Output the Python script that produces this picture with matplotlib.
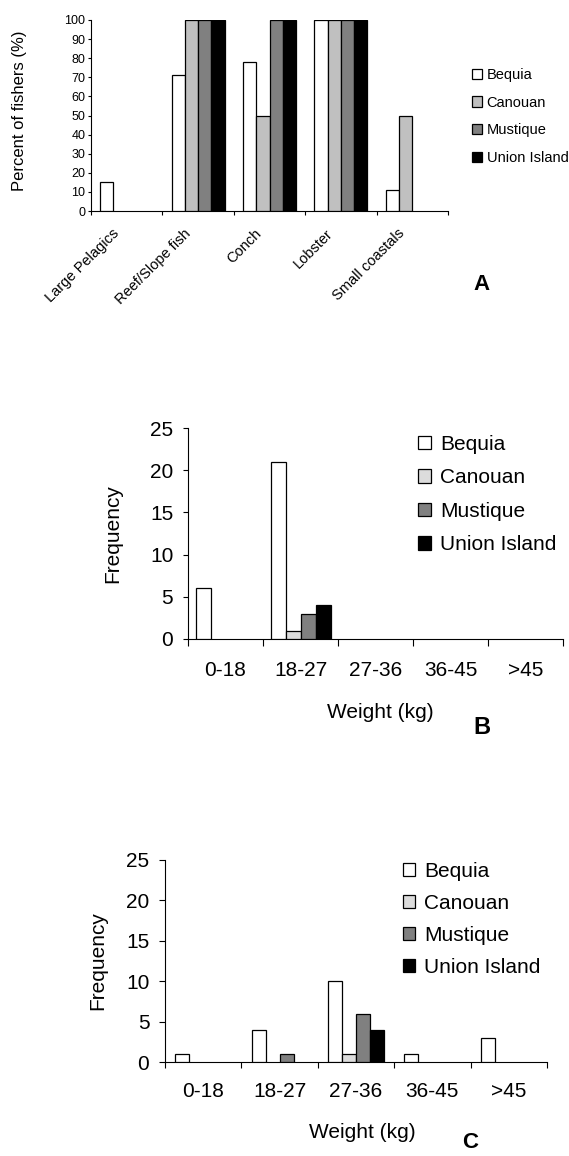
import numpy as np
import matplotlib
matplotlib.use('Agg')
import matplotlib.pyplot as plt
import matplotlib.transforms as mtransforms

plt.rcParams['font.family'] = ['Liberation Sans', 'DejaVu Sans']

islands = ['Bequia', 'Canouan', 'Mustique', 'Union Island']

# panel A - percent of fishers targeting each resource
resources = ['Large Pelagics', 'Reef/Slope fish', 'Conch', 'Lobster', 'Small coastals']
pct_bequia = [15, 71, 78, 100, 11]
pct_canouan = [0, 100, 50, 100, 50]
pct_mustique = [0, 100, 100, 100, 0]
pct_union = [0, 100, 100, 100, 0]

# panels B, C - weight class frequencies
weight_bins = ['0-18', '18-27', '27-36', '36-45', '>45']
b_bequia = [6, 21, 0, 0, 0]
b_canouan = [0, 1, 0, 0, 0]
b_mustique = [0, 3, 0, 0, 0]
b_union = [0, 4, 0, 0, 0]

c_bequia = [1, 4, 10, 1, 3]
c_canouan = [0, 0, 1, 0, 0]
c_mustique = [0, 1, 6, 0, 0]
c_union = [0, 0, 4, 0, 0]

colors_a = ['white', '#c0c0c0', '#808080', 'black']
colors_bc = ['white', '#dcdcdc', '#808080', 'black']

W, H = 569, 1156
fig = plt.figure(figsize=(W / 100, H / 100), dpi=100)


def px_axes(left, top, right, bottom):
    return fig.add_axes([left / W, 1 - bottom / H, (right - left) / W, (bottom - top) / H])


def draw_bars(ax, series, colors, labels, width, fs, ymax, ystep, ylen, ypad, xlen):
    x = np.arange(len(labels))
    for i, (vals, c) in enumerate(zip(series, colors)):
        vals = np.asarray(vals, dtype=float)
        keep = vals > 0  # empty bars are not drawn in the original
        ax.bar(x[keep] + (i - 1.5) * width, vals[keep], width, color=c,
               edgecolor='black', linewidth=0.9, zorder=3)
        # invisible proxy so legend gets every island
        ax.bar([np.nan], [np.nan], width, color=c, edgecolor='black',
               linewidth=0.9, label=islands[i])
    ax.set_xlim(-0.5, len(labels) - 0.5)
    ax.set_ylim(0, ymax)
    ax.set_yticks(np.arange(0, ymax + 1, ystep))
    ax.set_xticks(np.arange(len(labels) + 1) - 0.5)
    ax.set_xticklabels([])
    ax.set_xticks(x, minor=True)
    ax.tick_params(axis='x', which='major', direction='out', length=xlen, width=0.8)
    ax.tick_params(axis='x', which='minor', length=0, labelsize=fs)
    ax.tick_params(axis='y', direction='out', length=ylen, width=0.8, labelsize=fs, pad=ypad)
    for s in ['top', 'right']:
        ax.spines[s].set_visible(False)
    ax.spines['left'].set_linewidth(0.8)
    ax.spines['bottom'].set_linewidth(0.8)
    return x


# ---- panel A
axA = px_axes(91, 20, 448, 211)
draw_bars(axA, [pct_bequia, pct_canouan, pct_mustique, pct_union], colors_a,
          resources, 0.185, 9, 100, 10, 2.5, 1.5, 3)
axA.set_xticklabels(resources, minor=True, rotation=45, ha='right', va='top',
                    fontsize=10.5)
axA.tick_params(axis='x', which='minor', pad=11)
shift = mtransforms.ScaledTranslation(-5 / 100, 0, fig.dpi_scale_trans)
for lab in axA.xaxis.get_minorticklabels():
    lab.set_transform(lab.get_transform() + shift)
axA.set_ylabel('Percent of fishers (%)', fontsize=12)
axA.yaxis.set_label_coords((27 - 91) / (448 - 91), 0.524)
axA.legend(loc='upper left', bbox_to_anchor=(472 / W, 1 - 68 / H),
           bbox_transform=fig.transFigure, frameon=False, fontsize=10.5,
           handlelength=0.7, handleheight=0.7, handletextpad=0.3,
           labelspacing=0.94, borderpad=0, borderaxespad=0)
fig.text(482 / W, 1 - 285 / H, 'A', fontsize=16, fontweight='bold', ha='center', va='center')

# ---- panel B
axB = px_axes(188, 428, 563, 639)
draw_bars(axB, [b_bequia, b_canouan, b_mustique, b_union], colors_bc,
          weight_bins, 0.2, 15, 25, 5, 3.6, 7, 5)
axB.set_xticklabels(weight_bins, minor=True)
axB.tick_params(axis='x', which='minor', pad=16)
axB.set_ylabel('Frequency', fontsize=15)
axB.yaxis.set_label_coords((122 - 188) / (563 - 188), 0.5)
axB.set_xlabel('Weight (kg)', fontsize=15)
axB.xaxis.set_label_coords((380 - 188) / (563 - 188), -(703 - 639) / (639 - 428))
axB.legend(loc='upper left', bbox_to_anchor=(418 / W, 1 - 435 / H),
           bbox_transform=fig.transFigure, frameon=False, fontsize=15,
           handlelength=0.62, handleheight=0.62, handletextpad=0.43,
           labelspacing=0.69, borderpad=0, borderaxespad=0)
fig.text(482 / W, 1 - 728 / H, 'B', fontsize=17, fontweight='bold', ha='center', va='center')

# ---- panel C
axC = px_axes(165, 860, 547, 1062)
draw_bars(axC, [c_bequia, c_canouan, c_mustique, c_union], colors_bc,
          weight_bins, 0.183, 15, 25, 5, 4.3, 7, 4.5)
axC.set_xticklabels(weight_bins, minor=True)
axC.tick_params(axis='x', which='minor', pad=14.5)
axC.set_ylabel('Frequency', fontsize=15)
axC.yaxis.set_label_coords((107 - 165) / (547 - 165), 0.5)
axC.set_xlabel('Weight (kg)', fontsize=15)
axC.xaxis.set_label_coords((362 - 165) / (547 - 165), -(1123 - 1062) / (1062 - 860))
axC.legend(loc='upper left', bbox_to_anchor=(403 / W, 1 - 862 / H),
           bbox_transform=fig.transFigure, frameon=False, fontsize=15,
           handlelength=0.58, handleheight=0.58, handletextpad=0.43,
           labelspacing=0.62, borderpad=0, borderaxespad=0)
fig.text(470 / W, 1 - 1143 / H, 'C', fontsize=16, fontweight='bold', ha='center', va='center')

fig.savefig('out.png', dpi=100)
